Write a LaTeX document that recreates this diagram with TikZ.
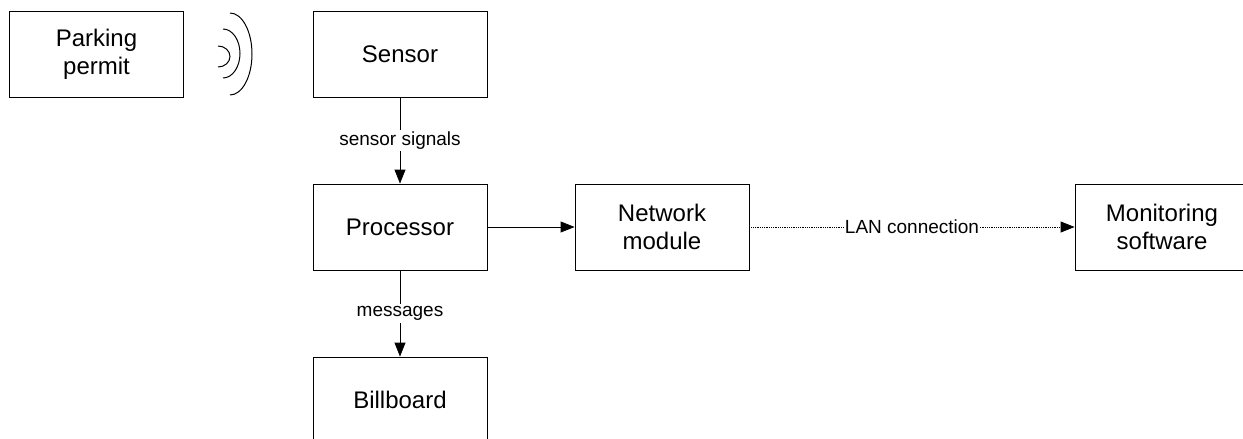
\documentclass[tikz,border=0pt]{standalone}
\usepackage{fontspec}
\setmainfont{Liberation Sans}
\usetikzlibrary{arrows.meta}

\begin{document}
\begin{tikzpicture}[
        x=1pt, y=-1pt,
        block/.style = {draw, line width=0.8pt, minimum width=174pt, minimum height=86pt,
                        align=center, font=\fontsize{24}{28}\selectfont},
        flow/.style  = {line width=0.8pt, -{Triangle[length=14pt,width=11pt]}},
        tag/.style   = {fill=white, inner sep=2pt, font=\fontsize{19}{22}\selectfont},
        wave/.style  = {line width=1pt}
    ]
        \useasboundingbox (0,0) rectangle (1243,439);
        \clip (0,0) rectangle (1243,439);
        % boxes
        \node[block] (permit) at (96.5,54) {Parking\\permit};
        \node[block] (sensor) at (400,54) {Sensor};
        \node[block] (proc) at (400,227) {Processor};
        \node[block] (net) at (662,227) {Network\\module};
        \node[block] (monitor) at (1162,227) {Monitoring\\software};
        \node[block] (board) at (400,400) {Billboard};
        % radio waves
        \draw[wave] (218,46) arc[start angle=-90, end angle=90, x radius=12, y radius=10.5];
        \draw[wave] (223,29) arc[start angle=-90, end angle=90, x radius=17, y radius=24.5];
        \draw[wave] (230,13) arc[start angle=-90, end angle=90, x radius=22, y radius=41];
        % connections
        \draw[flow] (sensor) -- node[tag] {sensor signals} (proc);
        \draw[flow] (proc) -- node[tag] {messages} (board);
        \draw[flow] (proc) -- (net);
        \draw[flow, densely dotted] (net) -- node[tag, inner sep=1pt] {LAN connection} (monitor);
    \end{tikzpicture}
\end{document}
